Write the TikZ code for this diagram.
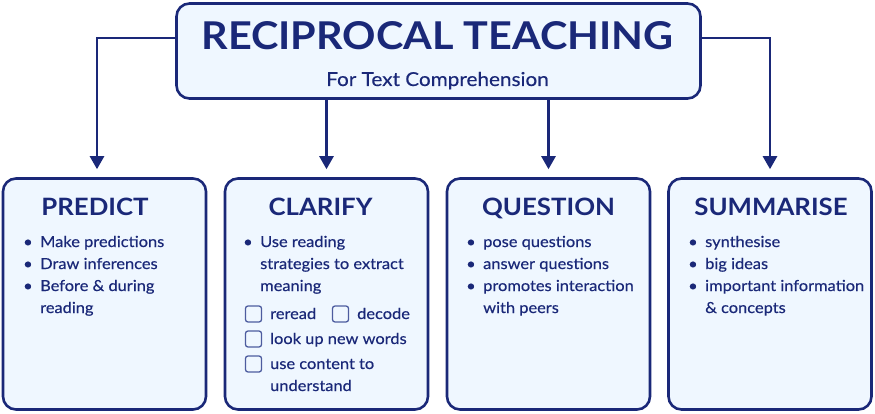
\documentclass[tikz,border=0pt]{standalone}
\usepackage{fontspec}
\setmainfont{Lato}[FakeStretch=1.08]
\newfontfamily\bodyfont{Lato}[FakeStretch=1.08, FakeBold=0.35]
\usetikzlibrary{positioning}
\usetikzlibrary{arrows.meta}

\definecolor{navy}{HTML}{1A2878}
\definecolor{paleblue}{HTML}{EFF7FF}
\definecolor{tickline}{HTML}{4D5C9F}

\newcommand{\itm}{\makebox[17pt][l]{\textbullet}}
\newcommand{\cont}{\makebox[17pt]{}}

\begin{document}
\begin{tikzpicture}[x=1pt, y=-1pt,
	banner/.style={draw=navy, fill=paleblue, line width=2.6pt, rounded corners=13pt, minimum width=524pt, minimum height=95pt},
	card/.style={draw=navy, fill=paleblue, line width=2.6pt, rounded corners=13pt, minimum width=203pt, minimum height=231pt},
	titletext/.style={text=navy, font=\bfseries\fontsize{38.3}{44}\selectfont, anchor=base, inner sep=0pt},
	subtext/.style={text=navy, font=\bodyfont\fontsize{19.2}{22}\selectfont, anchor=base, inner sep=0pt},
	heading/.style={text=navy, font=\bfseries\fontsize{23.9}{28}\selectfont, anchor=base, inner sep=0pt},
	items/.style={text=navy, font=\bodyfont\fontsize{15.2}{22}\selectfont, align=left, anchor=base west, inner sep=0pt},
	tickbox/.style={draw=tickline, line width=1.3pt, rounded corners=2.5pt, minimum size=16pt, inner sep=0pt},
	link/.style={draw=navy, line width=2.6pt, -{Triangle[width=14pt, length=13pt]}, shorten >=8pt},
]
	\useasboundingbox (0,0) rectangle (875,414);

	% title
	\node[banner] (title) at (438.5,51) {};
	\node[titletext] (maintitle) at (437.5,50) {RECIPROCAL TEACHING};
	\node[subtext] (subtitle) at (437.5,86) {For Text Comprehension};

	% the four strategy cards
	\node[card] (predict) at (104.5,294) {};
	\node[card] (clarify) at (326.5,294) {};
	\node[card] (question) at (548.5,294) {};
	\node[card] (summarise) at (770,294) {};

	\node[heading] (predict-h) at (95,215) {PREDICT};
	\node[heading] (clarify-h) at (320.5,215) {CLARIFY};
	\node[heading] (question-h) at (548.5,215) {QUESTION};
	\node[heading] (summarise-h) at (771,215) {SUMMARISE};

	% lists, placed by the baseline of their last line
	\node[items] (predict-l) at (23,313) {\itm Make predictions\\ \itm Draw inferences\\ \itm Before \& during\\ \cont reading};
	\node[items] (clarify-l) at (243,291) {\itm Use reading\\ \cont strategies to extract\\ \cont meaning};
	\node[items] (question-l) at (466,313) {\itm pose questions\\ \itm answer questions\\ \itm promotes interaction\\ \cont with peers};
	\node[items] (summarise-l) at (688,313) {\itm synthesise\\ \itm big ideas\\ \itm important information\\ \cont \& concepts};

	% checklist in the clarify card
	\node[tickbox] (tick1) at (253.5,314) {};
	\node[tickbox] (tick2) at (340.5,314) {};
	\node[tickbox] (tick3) at (253.5,339) {};
	\node[tickbox] (tick4) at (253.5,364) {};
	\node[items] (reread) at (270,319) {reread};
	\node[items] (decode) at (357,319) {decode};
	\node[items] (lookup) at (270,344) {look up new words};
	\node[items] (content) at (270,391) {use content to\\ understand};

	% connectors
	\draw[link] ([yshift=13pt]title.west) -| ([xshift=-7.5pt]predict.north);
	\draw[link] (title.south -| clarify.north) -- (clarify.north);
	\draw[link] (title.south -| question.north) -- (question.north);
	\draw[link] ([yshift=13pt]title.east) -| (summarise.north);
\end{tikzpicture}
\end{document}
